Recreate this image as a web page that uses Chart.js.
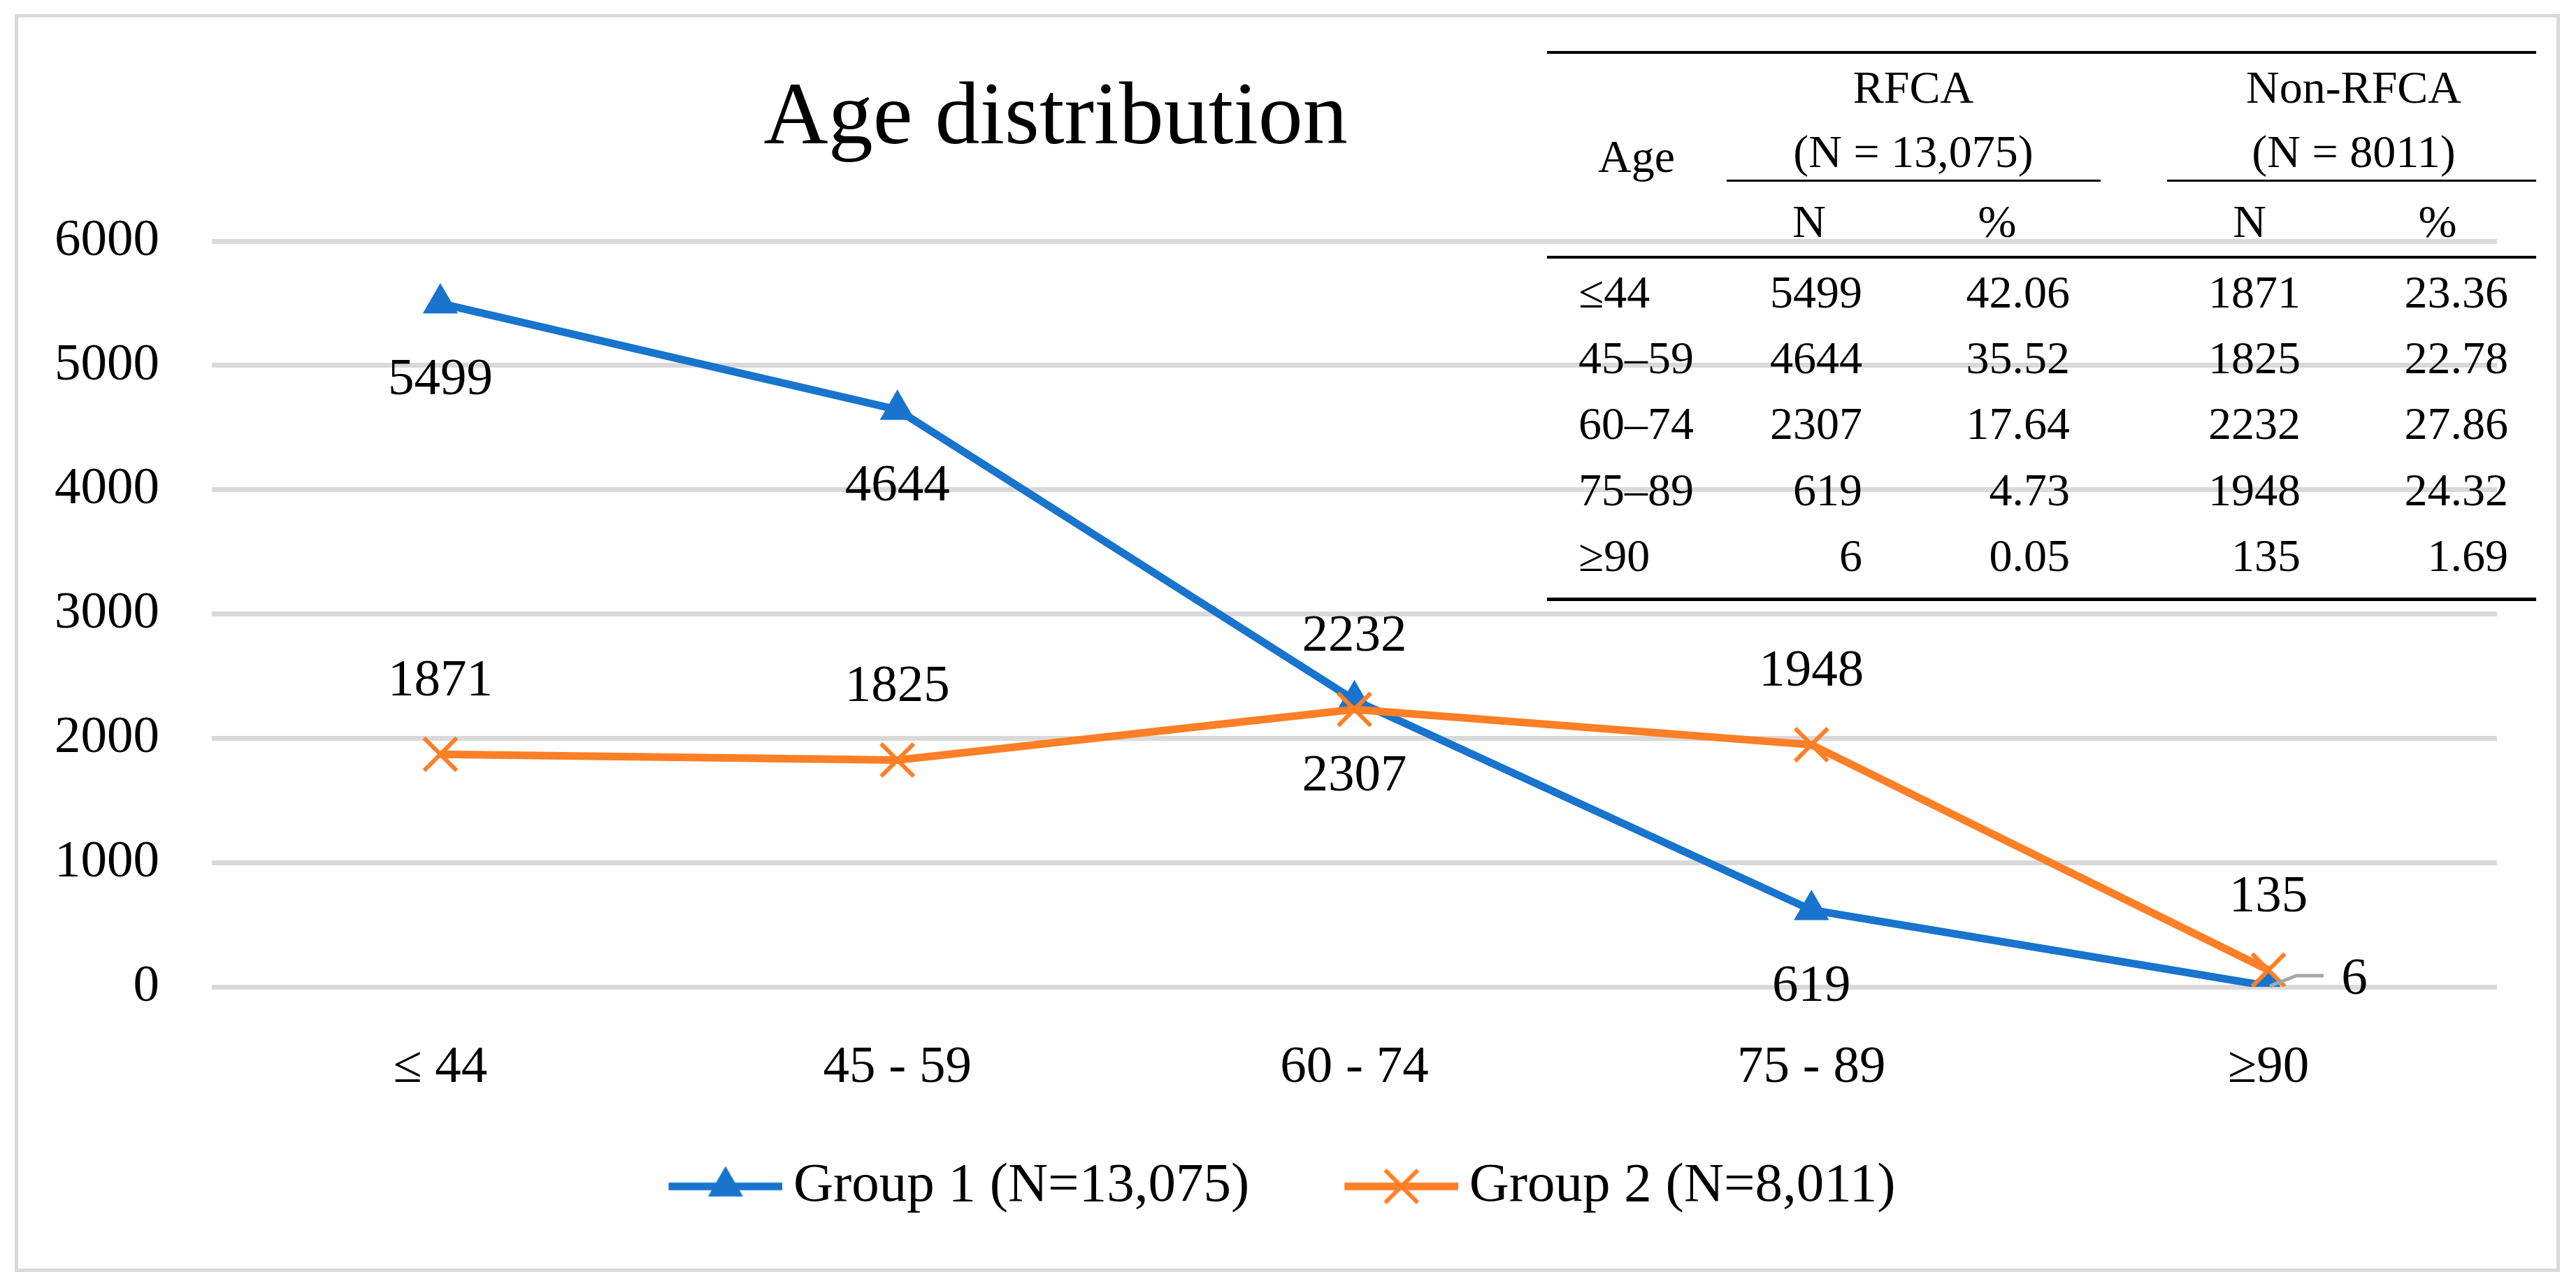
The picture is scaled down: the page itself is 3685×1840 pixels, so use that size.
<!DOCTYPE html>
<html>
<head>
<meta charset="utf-8">
<title>Age distribution</title>
<script src="https://cdn.jsdelivr.net/npm/chart.js@4.4.1/dist/chart.umd.min.js"></script>
<style>
    html, body { margin: 0; padding: 0; background: #fff; overflow: hidden; }
    #wrap { position: relative; width: 3685px; height: 1840px; }
</style>
</head>
<body>
<div id="wrap"><canvas id="chart"></canvas></div>
<script>
// Chart data
const ageGroups = ['≤ 44', '45 - 59', '60 - 74', '75 - 89', '≥90'];
const group1Counts = [5499, 4644, 2307, 619, 6];
const group2Counts = [1871, 1825, 2232, 1948, 135];
const group1Label = 'Group 1 (N=13,075)';
const group2Label = 'Group 2 (N=8,011)';

// Inset table data
const tableAges = ['≤44', '45–59', '60–74', '75–89', '≥90'];
const rfcaPct = ['42.06', '35.52', '17.64', '4.73', '0.05'];
const nonRfcaPct = ['23.36', '22.78', '27.86', '24.32', '1.69'];
const tableHead = ['RFCA', '(N = 13,075)', 'Non-RFCA', '(N = 8011)'];

const BLUE = '#1874CD';
const ORANGE = '#FF7F27';
const FONT = '"Liberation Serif", "Times New Roman", serif';

// Small canvases used as legend icons (line + marker)
function legendIcon(color, style, radius, borderWidth) {
    const c = document.createElement('canvas');
    c.width = 283;
    c.height = 70;
    const ctx = c.getContext('2d');
    ctx.strokeStyle = color;
    ctx.fillStyle = color;
    ctx.lineWidth = 11;
    ctx.beginPath();
    ctx.moveTo(120, 35);
    ctx.lineTo(283, 35);
    ctx.stroke();
    ctx.lineWidth = borderWidth;
    Chart.helpers.drawPoint(ctx, { pointStyle: style, radius: radius, rotation: 0, borderWidth: borderWidth }, 201.5, 35);
    return c;
}
const icons = [legendIcon(BLUE, 'triangle', 27, 2), legendIcon(ORANGE, 'crossRot', 33, 6)];

// Frame, title, point labels and the inset table
const decorations = {
    id: 'decorations',
    beforeDraw(chart) {
        const ctx = chart.ctx;
        ctx.save();
        ctx.fillStyle = '#fff';
        ctx.fillRect(0, 0, chart.width, chart.height);
        ctx.strokeStyle = '#D9D9D9';
        ctx.lineWidth = 5;
        ctx.strokeRect(23.5, 22.5, 3636, 1795);
        ctx.restore();
    },
    afterDatasetsDraw(chart) {
        const ctx = chart.ctx;
        ctx.save();
        ctx.font = '75px ' + FONT;
        ctx.fillStyle = '#000';
        ctx.textAlign = 'center';
        ctx.textBaseline = 'middle';

        // Group 1 labels below the points, last one off to the right with a leader
        const m1 = chart.getDatasetMeta(0);
        m1.data.forEach((pt, i) => {
            if (i === group1Counts.length - 1) {
                ctx.strokeStyle = '#A6A6A6';
                ctx.lineWidth = 5;
                ctx.beginPath();
                ctx.moveTo(pt.x + 2, pt.y);
                ctx.lineTo(pt.x + 40, pt.y - 15);
                ctx.lineTo(pt.x + 79, pt.y - 15);
                ctx.stroke();
                ctx.fillText(String(group1Counts[i]), pt.x + 123, pt.y - 9);
            } else {
                ctx.fillText(String(group1Counts[i]), pt.x, pt.y + 110);
            }
        });

        // Group 2 labels above the points
        const m2 = chart.getDatasetMeta(1);
        m2.data.forEach((pt, i) => {
            ctx.fillText(String(group2Counts[i]), pt.x, pt.y - 104);
        });
        ctx.restore();
    },
    afterDraw(chart) {
        const ctx = chart.ctx;
        ctx.save();
        ctx.fillStyle = '#000';

        // Title
        ctx.font = '128px ' + FONT;
        ctx.textAlign = 'center';
        ctx.textBaseline = 'alphabetic';
        ctx.fillText('Age distribution', 1510, 205);

        // Table rules
        ctx.fillRect(2213, 73, 1415, 4);
        ctx.fillRect(2470, 257, 535, 3);
        ctx.fillRect(3100, 257, 528, 3);
        ctx.fillRect(2213, 366, 1415, 4);
        ctx.fillRect(2213, 855, 1415, 5);

        // Table header
        ctx.font = '66px ' + FONT;
        ctx.textAlign = 'center';
        ctx.fillText('Age', 2341, 246);
        ctx.fillText(tableHead[0], 2737, 147);
        ctx.fillText(tableHead[1], 2737, 239);
        ctx.fillText(tableHead[2], 3367, 147);
        ctx.fillText(tableHead[3], 3367, 239);
        ctx.fillText('N', 2588, 339);
        ctx.fillText('%', 2857, 339);
        ctx.fillText('N', 3218, 339);
        ctx.fillText('%', 3487, 339);

        // Table body
        const rowBase = [440, 534, 628, 723, 817];
        tableAges.forEach((age, i) => {
            const y = rowBase[i];
            ctx.textAlign = 'left';
            ctx.fillText(age, 2258, y);
            ctx.textAlign = 'right';
            ctx.fillText(String(group1Counts[i]), 2664, y);
            ctx.fillText(rfcaPct[i], 2961, y);
            ctx.fillText(String(group2Counts[i]), 3291, y);
            ctx.fillText(nonRfcaPct[i], 3588, y);
        });
        ctx.restore();
    }
};

const ctx = document.getElementById('chart').getContext('2d');
const chart = new Chart(ctx, {
    type: 'line',
    data: {
        labels: ageGroups,
        datasets: [
            {
                label: group1Label,
                data: group1Counts,
                borderColor: BLUE,
                backgroundColor: BLUE,
                borderWidth: 11,
                tension: 0,
                pointStyle: 'triangle',
                pointRadius: 27,
                pointBackgroundColor: BLUE,
                pointBorderColor: BLUE,
                pointBorderWidth: 2,
                order: 1
            },
            {
                label: group2Label,
                data: group2Counts,
                borderColor: ORANGE,
                backgroundColor: ORANGE,
                borderWidth: 11,
                tension: 0,
                pointStyle: 'crossRot',
                pointRadius: 33,
                pointBorderColor: ORANGE,
                pointBorderWidth: 6,
                order: 0
            }
        ]
    },
    options: {
        responsive: true,
        maintainAspectRatio: false,
        devicePixelRatio: 1,
        animation: false,
        events: [],
        layout: {
            padding: { left: 0, right: 113, top: 345, bottom: 93 }
        },
        scales: {
            x: {
                offset: true,
                grid: { display: false },
                border: { display: false },
                ticks: {
                    color: '#000',
                    padding: 63,
                    font: { family: FONT, size: 75 }
                },
                afterFit(scale) { scale.height = 206; }
            },
            y: {
                min: 0,
                max: 6000,
                ticks: {
                    stepSize: 1000,
                    color: '#000',
                    padding: 75,
                    font: { family: FONT, size: 75 },
                    callback: value => String(value)
                },
                grid: {
                    color: '#D9D9D9',
                    lineWidth: 7,
                    drawTicks: false
                },
                border: { display: false },
                afterFit(scale) { scale.width = 303; }
            }
        },
        plugins: {
            title: { display: false },
            tooltip: { enabled: false },
            legend: {
                display: true,
                position: 'bottom',
                labels: {
                    usePointStyle: true,
                    pointStyleWidth: 235,
                    padding: 40,
                    color: '#000',
                    font: { family: FONT, size: 79 },
                    generateLabels: chart => chart.data.datasets.map((ds, i) => ({
                        text: ds.label,
                        pointStyle: icons[i],
                        fillStyle: ds.borderColor,
                        strokeStyle: ds.borderColor,
                        lineWidth: 0,
                        hidden: false,
                        datasetIndex: i
                    }))
                }
            }
        }
    },
    plugins: [decorations]
});
</script>
</body>
</html>
